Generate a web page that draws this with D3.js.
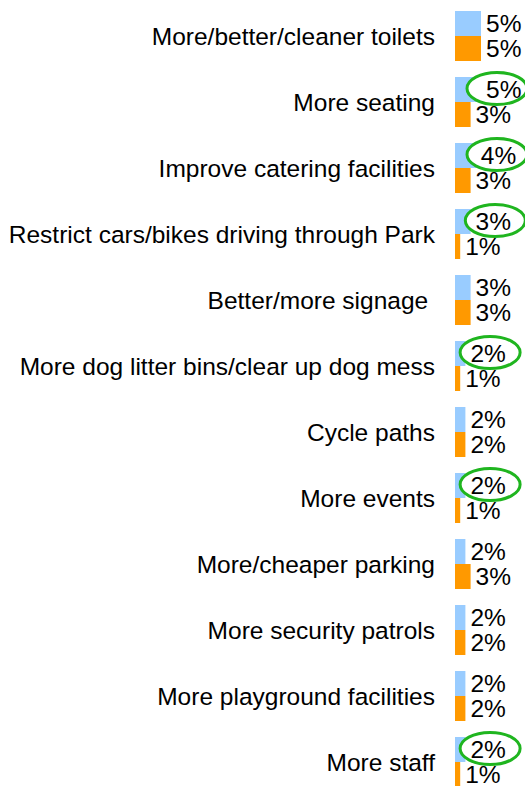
<!DOCTYPE html>
<html>
<head>
<meta charset="utf-8">
<script src="https://cdn.jsdelivr.net/npm/d3@7/dist/d3.min.js"></script>
<style>
  html, body { margin: 0; padding: 0; background: #fff; }
  svg { display: block; }
  text { font-family: "Liberation Sans", Arial, sans-serif; fill: #000; white-space: pre; }
</style>
</head>
<body>
<svg id="chart" width="525" height="786"></svg>
<script>
// Suggested improvements to the park, share of responses for two survey waves
const categories = [
  "More/better/cleaner toilets",
  "More seating",
  "Improve catering facilities",
  "Restrict cars/bikes driving through Park",
  "Better/more signage ",
  "More dog litter bins/clear up dog mess",
  "Cycle paths",
  "More events",
  "More/cheaper parking",
  "More security patrols",
  "More playground facilities",
  "More staff"
];
const seriesNames = ["current", "previous"];
const currentValues  = [5, 5, 4, 3, 3, 2, 2, 2, 2, 2, 2, 2];
const previousValues = [5, 3, 3, 1, 3, 1, 2, 1, 3, 2, 2, 1];
// Items whose current-wave share is circled
const highlighted = [
  "More seating",
  "Improve catering facilities",
  "Restrict cars/bikes driving through Park",
  "More dog litter bins/clear up dog mess",
  "More events",
  "More staff"
];

const colors = { current: "#99ccff", previous: "#ff9900" };
const ringColor = "#1fb51f";
const fontSize = 24.5;

const svg = d3.select("#chart");

const y = d3.scaleBand()
  .domain(categories)
  .range([3, 795])
  .paddingInner(16 / 66)
  .paddingOuter(8 / 66);

const ySub = d3.scaleBand()
  .domain(seriesNames)
  .range([0, y.bandwidth()]);

const x = d3.scaleLinear().domain([0, 5]).range([455, 481]);

const points = [];
categories.forEach((c, i) => {
  points.push({ category: c, key: "current", value: currentValues[i] });
  points.push({ category: c, key: "previous", value: previousValues[i] });
});
const barY = d => y(d.category) + ySub(d.key);
const barMid = d => barY(d) + ySub.bandwidth() / 2;
const fmt = v => d3.format(".0%")(v / 100);

// Category labels, right-aligned against the bars
svg.append("g")
  .selectAll("text")
  .data(categories)
  .join("text")
  .attr("x", 435)
  .attr("y", d => y(d) + y.bandwidth() / 2)
  .attr("dy", "0.35em")
  .attr("text-anchor", "end")
  .attr("font-size", fontSize)
  .text(d => d);

// Bars
svg.append("g")
  .selectAll("rect")
  .data(points)
  .join("rect")
  .attr("x", x(0))
  .attr("y", barY)
  .attr("width", d => x(d.value) - x(0))
  .attr("height", ySub.bandwidth())
  .attr("fill", d => colors[d.key]);

// Rings sit between the bars and the value labels
const ringLayer = svg.append("g");

const labels = svg.append("g")
  .selectAll("text")
  .data(points)
  .join("text")
  .attr("x", d => x(d.value) + 5)
  .attr("y", barMid)
  .attr("dy", "0.34em")
  .attr("font-size", fontSize)
  .text(d => fmt(d.value));

labels.filter(d => d.key === "current" && highlighted.includes(d.category))
  .each(function(d) {
    const b = this.getBBox();
    ringLayer.append("ellipse")
      .attr("cx", Math.min(b.x + b.width / 2 + 2, 497))
      .attr("cy", barMid(d) - 1)
      .attr("rx", 30)
      .attr("ry", 16)
      .attr("fill", "#fff")
      .attr("stroke", ringColor)
      .attr("stroke-width", 3);
  });
</script>
</body>
</html>
